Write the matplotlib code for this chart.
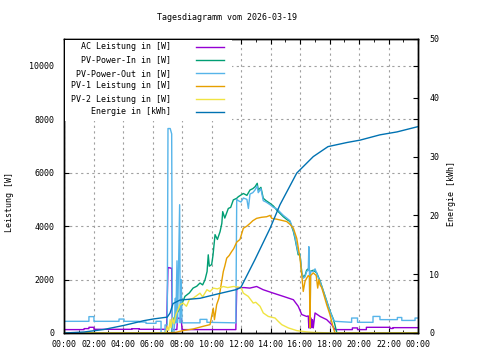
import matplotlib
matplotlib.use('Agg')
import matplotlib.pyplot as plt
from matplotlib.patches import Rectangle

plt.rcParams['font.family'] = ['DejaVu Sans Mono']
plt.rcParams['font.size'] = 6

# AC Leistung [W]
t_ac = [0, 1.36, 1.36, 1.69, 1.69, 2.03, 2.03, 4.6, 4.6, 5.1, 5.1, 6.95, 7.05, 7.3, 7.35,
        7.65, 7.7, 7.95, 8.0, 11.65, 11.71, 12.2, 12.6, 13.06, 13.5, 14.2, 14.87, 15.55,
        15.88, 16.12, 16.45, 16.56, 16.6, 16.65, 16.7, 16.75, 16.8, 16.85, 16.9, 17.02,
        17.36, 17.81, 18.15, 18.37, 19.55, 19.55, 19.9, 19.9, 20.5, 20.5, 22.1, 22.1,
        22.3, 22.3, 24]
ac = [127, 127, 164, 164, 213, 213, 138, 138, 160, 160, 138, 138, 2450, 2420, 130,
      130, 560, 540, 127, 127, 1680, 1700, 1680, 1740, 1620, 1490, 1370, 1245,
      1000, 690, 620, 640, 190, 600, 180, 560, 200, 500, 190, 750,
      620, 500, 313, 127, 127, 190, 190, 127, 127, 213, 213, 170,
      170, 200, 200]

# PV-Power-In [W]
t_in = [0, 7.3, 7.4, 7.6, 7.86, 8.0, 8.2, 8.5, 8.75, 9.0, 9.22, 9.4, 9.56, 9.7, 9.78,
        9.85, 10.01, 10.1, 10.24, 10.4, 10.58, 10.7, 10.76, 10.9, 11.14, 11.3, 11.48,
        11.71, 11.82, 12.16, 12.4, 12.61, 12.8, 12.95, 13.1, 13.17, 13.35, 13.51, 13.7,
        13.97, 14.2, 14.42, 14.6, 14.87, 15.1, 15.32, 15.55, 15.66, 15.78, 15.88, 16.0,
        16.12, 16.22, 16.34, 16.45, 16.56, 16.68, 16.9, 17.13, 17.36, 17.58, 17.81,
        18.03, 18.26, 18.37, 18.5, 24]
p_in = [0, 0, 500, 700, 900, 1100, 1370, 1500, 1680, 1750, 1870, 1800, 1990, 2300, 2925,
        2500, 2560, 2900, 3680, 3500, 3790, 4100, 4540, 4300, 4660, 4700, 4980,
        5040, 5100, 5220, 5150, 5350, 5400, 5470, 5600, 5350, 5450, 5040, 4950,
        4850, 4750, 4600, 4500, 4350, 4250, 4170, 3800, 3540, 3200, 2925, 2950,
        2250, 2100, 2150, 2350, 2400, 2300, 2350, 2250, 1950, 1580, 1200,
        830, 520, 300, 0, 0]

# PV-Power-Out [W]
t_out = [0, 1.69, 1.69, 2.03, 2.03, 3.73, 3.73, 4.07, 4.07, 5.1, 5.1, 5.56, 5.56, 6.24,
         6.24, 6.58, 6.58, 6.85, 6.85, 7.0, 7.05, 7.2, 7.3, 7.35, 7.45, 7.5, 7.55, 7.58,
         7.66, 7.7, 7.84, 7.88, 7.95, 8.0, 9.22, 9.22, 9.69, 9.69, 11.65, 11.71, 11.82,
         12.0, 12.16, 12.4, 12.5, 12.61, 12.8, 12.95, 13.1, 13.17, 13.35, 13.51, 13.7,
         13.97, 14.2, 14.42, 14.6, 14.87, 15.1, 15.32, 15.55, 15.66, 15.78, 15.88, 16.0,
         16.12, 16.22, 16.34, 16.45, 16.56, 16.6, 16.64, 16.68, 16.72, 16.9, 17.02,
         17.13, 17.22, 17.36, 17.47, 17.58, 17.81, 18.03, 18.26, 18.37, 19.5, 19.5,
         19.9, 19.9, 20.95, 20.95, 21.42, 21.42, 22.6, 22.6, 22.9, 22.9, 23.8, 23.8, 24]
p_out = [437, 437, 612, 612, 437, 437, 522, 522, 437, 437, 410, 410, 362, 362,
         437, 437, 0, 0, 300, 300, 7650, 7650, 7450, 0, 0, 380, 1300, 380,
         2700, 380, 4800, 380, 2000, 380, 380, 510, 510, 400, 380, 5000, 4950,
         4900, 5050, 5000, 4660, 5200, 5250, 5350, 5500, 5250, 5400, 4950, 4900,
         4800, 4700, 4650, 4550, 4400, 4300, 4200, 3850, 3600, 3250, 3000, 2930,
         2250, 2050, 2100, 2300, 2350, 3230, 2300, 190, 2300, 2300, 2400,
         2240, 2100, 1930, 1750, 1555, 1180, 810, 500, 437, 400, 560,
         560, 400, 400, 620, 620, 500, 500, 580, 580, 470, 470, 560, 560]

# PV-1 Leistung [W]
t_pv1 = [0, 6.85, 7.59, 8.07, 8.75, 9.43, 9.9, 10.12, 10.2, 10.35, 10.5, 10.58, 10.69,
         10.8, 10.9, 11.03, 11.2, 11.37, 11.5, 11.71, 11.93, 12.16, 12.4, 12.61, 12.8,
         13.06, 13.4, 13.74, 13.97, 14.08, 14.4, 14.64, 15.1, 15.35, 15.55, 15.78, 15.88,
         16.0, 16.12, 16.22, 16.34, 16.45, 16.56, 16.64, 16.68, 16.72, 16.9, 17.0, 17.1,
         17.2, 17.28, 17.36, 17.47, 17.58, 17.81, 18.03, 18.26, 18.37, 24]
pv1 = [0, 0, 25, 90, 150, 250, 313, 930, 500, 1060, 1300, 1555, 1930,
       2300, 2500, 2800, 2900, 3050, 3150, 3400, 3500, 3920, 4000, 4100, 4200,
       4290, 4330, 4350, 4400, 4290, 4260, 4230, 4170, 4050, 3920, 3540, 3200,
       2800, 2180, 1555, 1930, 2050, 2150, 2100, 200, 2150, 2250, 2200, 2150,
       1680, 2000, 1800, 1700, 1500, 1060, 690, 190, 0, 0]

# PV-2 Leistung [W]
t_pv2 = [0, 6.9, 7.0, 7.1, 7.2, 7.25, 7.37, 7.45, 7.6, 7.75, 7.86, 8.07, 8.3, 8.5, 8.75,
         9.0, 9.22, 9.4, 9.69, 9.9, 10.12, 10.4, 10.8, 11.1, 11.48, 11.8, 12.0, 12.16,
         12.49, 12.83, 13.0, 13.29, 13.51, 13.85, 14.31, 14.5, 14.76, 15.21, 15.78, 16.45,
         17.0, 18.3, 24]
pv2 = [0, 0, 250, 100, 500, 200, 560, 350, 700, 900, 1060, 1120, 1000, 1250, 1300,
       1400, 1490, 1350, 1620, 1550, 1680, 1650, 1740, 1700, 1740, 1720, 1700, 1490,
       1370, 1120, 1150, 1000, 750, 620, 560, 450, 313, 190, 90, 40,
       20, 0, 0]

# Energie [kWh]
t_en = [0, 1.36, 2.71, 4.07, 5.42, 6.1, 7.0, 7.19, 7.39, 7.86, 9.22, 10.35, 11.71, 12.0,
        12.95, 13.97, 14.64, 15.78, 16.9, 17.9, 19.19, 20.07, 21.42, 22.58, 24]
energie = [0, 0.17, 0.6, 1.3, 2.1, 2.4, 2.7, 3.4, 5.0, 5.6, 5.9, 6.6, 7.4, 7.8,
           12.5, 17.8, 21.8, 27.2, 30.0, 31.7, 32.4, 32.8, 33.7, 34.2, 35.1]

labels = ['AC Leistung in [W]', 'PV-Power-In in [W]', 'PV-Power-Out in [W]',
          'PV-1 Leistung in [W]', 'PV-2 Leistung in [W]', 'Energie in [kWh]']
colors = ['#9400D3', '#009E73', '#56B4E9', '#E69F00', '#F0E442', '#0072B2']
hours = list(range(0, 25, 2))
hour_labels = ['%02d:00' % (h % 24) for h in hours]

W, H = 480, 360
fig = plt.figure(figsize=(4.8, 3.6), dpi=100)
ax = fig.add_axes([64 / W, 1 - 333 / H, (418 - 64) / W, (333 - 39) / H])
ax2 = ax.twinx()

lw = 1.0
ax.plot(t_ac, ac, color=colors[0], lw=lw)
ax.plot(t_in, p_in, color=colors[1], lw=lw)
ax.plot(t_out, p_out, color=colors[2], lw=lw)
ax.plot(t_pv1, pv1, color=colors[3], lw=lw)
ax.plot(t_pv2, pv2, color=colors[4], lw=lw)
ax2.plot(t_en, energie, color=colors[5], lw=lw)

ax.set_xlim(0, 24)
ax.set_ylim(0, 11000)
ax2.set_ylim(0, 50)
ax.set_xticks(hours)
ax.set_xticklabels(hour_labels)
ax.set_xticks(range(1, 24, 2), minor=True)
ax.set_yticks(range(0, 11000, 2000))
ax2.set_yticks(range(0, 51, 10))

ax.grid(True, color='#a0a0a0', linestyle=(0, (2, 3)), lw=0.8)
ax.set_axisbelow(True)
ax.tick_params(axis='x', which='both', direction='in', top=True, pad=5)
ax.tick_params(axis='x', which='major', length=3.5)
ax.tick_params(axis='x', which='minor', length=2)
ax.tick_params(axis='y', direction='in', right=True, length=3.5, pad=7)
ax2.tick_params(axis='y', direction='in', length=3.5, pad=8)
for a in (ax, ax2):
    for s in a.spines.values():
        s.set_linewidth(1.0)

# key box (gnuplot style, text right aligned, sample on the right)
ax2.add_patch(Rectangle((65 / W, 1 - 121 / H), (232 - 65) / W, (121 - 40) / H,
                        transform=fig.transFigure, facecolor='white',
                        edgecolor='none', zorder=5))
rows = [46.7, 60, 73.3, 86, 99, 111.7]
for lab, col, y in zip(labels, colors, rows):
    ax2.text(171 / W, 1 - y / H, lab, transform=fig.transFigure,
             ha='right', va='center', zorder=6)
    ax2.plot([196 / W, 224 / W], [1 - y / H, 1 - y / H], color=col, lw=lw,
             transform=fig.transFigure, zorder=6, clip_on=False)

fig.text(227 / W, 1 - 18 / H, 'Tagesdiagramm vom 2026-03-19', ha='center', va='center')
fig.text(9.5 / W, 1 - 202 / H, 'Leistung [W]', rotation=90, ha='center', va='center')
fig.text(452 / W, 1 - 193 / H, 'Energie [kWh]', rotation=90, ha='center', va='center')

fig.savefig('out.png', dpi=100)
